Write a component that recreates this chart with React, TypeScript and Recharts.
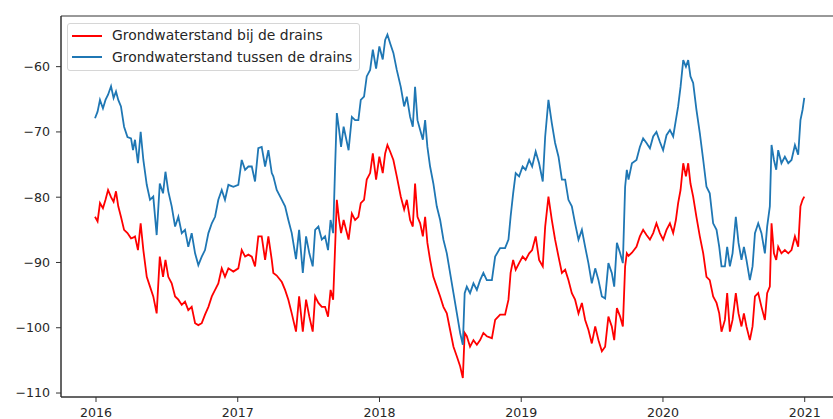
import { LineChart, Line, XAxis, YAxis, Legend, ReferenceArea } from "recharts"

// decimal years of the samples
const dates = [
  2015.993, 2016.011, 2016.028, 2016.049, 2016.067, 2016.085, 2016.106, 2016.124, 2016.141, 2016.157,
  2016.176, 2016.198, 2016.222, 2016.247, 2016.261, 2016.275, 2016.296, 2016.315, 2016.334, 2016.358,
  2016.381, 2016.404, 2016.428, 2016.45, 2016.473, 2016.49, 2016.51, 2016.534, 2016.558, 2016.581,
  2016.605, 2016.628, 2016.651, 2016.675, 2016.699, 2016.722, 2016.746, 2016.769, 2016.793, 2016.817,
  2016.84, 2016.863, 2016.887, 2016.91, 2016.934, 2016.969, 2017.004, 2017.028, 2017.052, 2017.075,
  2017.099, 2017.122, 2017.145, 2017.169, 2017.193, 2017.216, 2017.24, 2017.251, 2017.275, 2017.311,
  2017.334, 2017.357, 2017.381, 2017.411, 2017.433, 2017.459, 2017.482, 2017.505, 2017.529, 2017.546,
  2017.569, 2017.593, 2017.616, 2017.637, 2017.655, 2017.673, 2017.687, 2017.699, 2017.715, 2017.729,
  2017.747, 2017.782, 2017.805, 2017.828, 2017.851, 2017.868, 2017.891, 2017.91, 2017.934, 2017.953,
  2017.976, 2017.999, 2018.023, 2018.04, 2018.056, 2018.075, 2018.098, 2018.122, 2018.15, 2018.174,
  2018.193, 2018.216, 2018.235, 2018.251, 2018.268, 2018.287, 2018.306, 2018.322, 2018.338, 2018.357,
  2018.38, 2018.404, 2018.428, 2018.451, 2018.475, 2018.498, 2018.522, 2018.546, 2018.569, 2018.588,
  2018.601, 2018.616, 2018.639, 2018.663, 2018.687, 2018.71, 2018.733, 2018.757, 2018.793, 2018.816,
  2018.851, 2018.886, 2018.91, 2018.925, 2018.943, 2018.961, 2018.985, 2019.01, 2019.031, 2019.056,
  2019.077, 2019.102, 2019.126, 2019.152, 2019.169, 2019.192, 2019.216, 2019.239, 2019.263, 2019.287,
  2019.31, 2019.333, 2019.357, 2019.38, 2019.404, 2019.428, 2019.451, 2019.474, 2019.498, 2019.522,
  2019.545, 2019.569, 2019.592, 2019.615, 2019.639, 2019.656, 2019.675, 2019.698, 2019.717, 2019.733,
  2019.745, 2019.757, 2019.781, 2019.813, 2019.837, 2019.86, 2019.884, 2019.908, 2019.931, 2019.954,
  2019.978, 2020.001, 2020.025, 2020.049, 2020.072, 2020.091, 2020.107, 2020.124, 2020.143, 2020.162,
  2020.178, 2020.194, 2020.213, 2020.236, 2020.26, 2020.284, 2020.307, 2020.33, 2020.354, 2020.378,
  2020.397, 2020.413, 2020.437, 2020.453, 2020.472, 2020.491, 2020.514, 2020.533, 2020.554, 2020.571,
  2020.589, 2020.613, 2020.632, 2020.649, 2020.672, 2020.695, 2020.719, 2020.735, 2020.754, 2020.766,
  2020.783, 2020.799, 2020.813, 2020.836, 2020.86, 2020.884, 2020.907, 2020.931, 2020.954, 2020.97,
  2020.985, 2020.997,
]

// Grondwaterstand bij de drains (cm)
const bijDrains = [
  -83.0, -83.7, -80.9, -81.7, -80.4, -78.9, -80.0, -80.7, -79.1, -81.4,
  -83.0, -85.0, -85.5, -86.3, -86.2, -86.0, -88.1, -84.0, -88.1, -92.2,
  -93.7, -95.2, -97.8, -89.1, -92.2, -89.6, -92.2, -93.2, -95.2, -95.7,
  -96.5, -96.0, -97.3, -96.8, -99.3, -99.6, -99.3, -98.0, -96.8, -95.2,
  -94.2, -93.2, -90.9, -92.2, -90.9, -91.4, -90.9, -88.1, -89.1, -88.8,
  -89.1, -90.6, -86.0, -86.0, -89.6, -86.0, -89.6, -91.6, -92.0, -93.0,
  -94.2, -95.7, -97.8, -100.6, -95.2, -100.6, -95.7, -98.3, -100.6, -95.2,
  -96.2, -96.8, -96.8, -98.3, -94.2, -95.7, -87.6, -80.4, -83.5, -85.5,
  -83.5, -86.5, -82.5, -83.5, -83.0, -80.9, -80.4, -77.3, -76.3, -73.3,
  -77.3, -73.8, -76.3, -73.3, -72.0, -73.0, -74.3, -76.8, -79.9, -81.9,
  -80.4, -83.5, -84.5, -77.9, -83.0, -84.0, -86.0, -83.0, -87.0, -89.6,
  -92.2, -93.7, -95.2, -96.8, -97.8, -100.3, -102.9, -104.4, -105.9, -107.7,
  -100.8, -101.3, -102.9, -101.9, -102.6, -101.9, -100.8, -101.3, -101.6, -98.8,
  -98.0, -98.0, -95.7, -91.6, -89.6, -91.1, -90.1, -89.1, -89.6, -88.6,
  -88.1, -86.0, -89.6, -90.6, -84.5, -79.9, -83.5, -86.5, -89.1, -91.6,
  -91.1, -92.7, -94.7, -95.7, -97.8, -96.2, -98.8, -100.3, -102.4, -99.8,
  -101.9, -103.6, -102.9, -98.3, -99.8, -101.9, -97.0, -98.3, -99.8, -90.6,
  -88.6, -89.0, -88.5, -87.6, -86.0, -85.0, -85.8, -86.5, -85.5, -84.0,
  -85.5, -86.5, -85.0, -84.0, -85.5, -83.5, -80.9, -78.9, -74.8, -76.8,
  -74.8, -77.9, -79.9, -83.0, -86.0, -88.6, -92.2, -92.7, -95.2, -96.2,
  -97.8, -100.6, -98.8, -94.7, -100.6, -98.8, -94.7, -97.8, -99.8, -97.8,
  -99.8, -101.9, -99.8, -95.2, -94.7, -96.8, -98.8, -94.7, -93.7, -84.0,
  -88.6, -89.6, -87.6, -88.6, -88.1, -88.6, -88.1, -86.0, -87.6, -81.4,
  -80.4, -79.9,
]

// Grondwaterstand tussen de drains (cm)
const tussenDrains = [
  -67.9, -66.9, -65.1, -66.4, -65.1, -64.3, -63.0, -64.8, -63.8, -65.1,
  -66.1, -69.2, -70.8, -71.0, -72.8, -71.2, -74.8, -70.0, -74.3, -78.1,
  -80.4, -79.9, -85.8, -77.9, -79.4, -76.1, -79.1, -81.4, -84.5, -83.0,
  -85.5, -85.0, -87.6, -85.5, -88.6, -90.4, -89.1, -88.1, -85.5, -84.0,
  -83.0, -80.4, -78.9, -80.4, -78.1, -78.4, -78.1, -74.3, -75.8, -75.3,
  -75.3, -77.6, -72.5, -72.3, -75.3, -72.8, -76.3, -76.8, -78.9, -80.4,
  -81.4, -83.5, -85.5, -89.5, -85.0, -91.6, -86.0, -88.6, -90.6, -85.0,
  -84.5, -86.5, -86.0, -88.1, -83.5, -85.5, -75.3, -67.1, -69.7, -72.3,
  -69.2, -72.8, -67.7, -68.2, -68.2, -65.1, -64.6, -61.5, -60.5, -57.4,
  -60.3, -56.9, -58.9, -55.9, -55.1, -56.4, -57.9, -60.5, -63.1, -66.1,
  -64.6, -67.7, -69.2, -63.1, -68.2, -69.7, -71.2, -68.2, -72.3, -75.3,
  -77.9, -81.4, -83.5, -86.5, -88.6, -91.6, -94.7, -97.8, -100.8, -102.6,
  -94.7, -93.7, -94.7, -93.2, -94.2, -92.7, -91.6, -92.7, -92.7, -89.1,
  -87.8, -87.8, -86.5, -83.0, -79.4, -76.3, -76.8, -75.3, -75.8, -74.3,
  -75.3, -73.0, -74.8, -77.6, -70.7, -65.1, -68.7, -71.7, -73.8, -77.3,
  -77.3, -80.4, -81.4, -84.0, -86.5, -85.0, -87.6, -90.1, -93.2, -90.9,
  -92.7, -95.2, -95.5, -90.1, -91.6, -93.7, -87.0, -88.6, -90.1, -78.4,
  -75.8, -77.3, -74.8, -74.3, -72.3, -71.0, -71.7, -72.5, -70.7, -70.0,
  -71.5, -72.8, -70.5, -69.7, -70.7, -68.2, -66.1, -63.1, -59.0, -60.0,
  -59.0, -61.5, -62.5, -66.6, -70.2, -74.3, -78.4, -79.4, -84.0, -85.0,
  -87.6, -90.6, -90.6, -87.6, -90.6, -88.6, -83.0, -87.0, -89.6, -87.6,
  -89.6, -92.7, -90.6, -85.5, -84.0, -85.5, -88.6, -84.5, -81.4, -72.0,
  -74.3, -75.8, -72.8, -74.8, -73.8, -74.8, -74.3, -72.0, -73.5, -68.2,
  -66.6, -64.8,
]

const yearTicks = [2016, 2017, 2018, 2019, 2020, 2021]
const levelTicks = [-110, -100, -90, -80, -70, -60]

const data = dates.map((t, i) => ({ t, bij: bijDrains[i], tussen: tussenDrains[i] }))

const X_DOMAIN: [number, number] = [2015.753, 2021.249]
const Y_DOMAIN: [number, number] = [-110.61, -52.24]

const FONT = "'DejaVu Sans', sans-serif"

const minus = (v: number) => (v < 0 ? "\u2212" + Math.abs(v) : String(v))

function renderLegend(props: any) {
  const items = props.payload || []
  return (
    <div
      style={{
        border: "1px solid #d6d6d6",
        borderRadius: 3,
        background: "rgba(255,255,255,0.8)",
        padding: "1px 7px 2px 4px",
        fontFamily: FONT,
        fontSize: 13.9,
        color: "#262626",
        lineHeight: "21.5px",
      }}
    >
      {items.map((it: any) => (
        <div key={it.value} style={{ display: "flex", alignItems: "center", whiteSpace: "nowrap" }}>
          <span style={{ display: "inline-block", width: 30, height: 2, background: it.color, marginRight: 10 }} />
          <span>{it.value}</span>
        </div>
      ))}
    </div>
  )
}

export default function App() {
  return (
    <div style={{ position: "absolute", left: 0, top: 0, width: 833, height: 419, overflow: "hidden", background: "#fff" }}>
      <LineChart width={860} height={419} data={data} margin={{ top: 16, right: 20, bottom: 0, left: 0 }}>
        <XAxis
          dataKey="t"
          type="number"
          domain={X_DOMAIN}
          ticks={yearTicks}
          allowDataOverflow
          height={22}
          tickSize={5}
          tickMargin={6}
          stroke="#333"
          tick={{ fill: "#262626", fontSize: 12.6, fontFamily: FONT }}
          tickFormatter={(v: number) => String(v)}
        />
        <YAxis
          type="number"
          domain={Y_DOMAIN}
          ticks={levelTicks}
          allowDataOverflow
          width={61}
          tickSize={5}
          tickMargin={6}
          stroke="#333"
          tick={{ fill: "#262626", fontSize: 12.6, fontFamily: FONT }}
          tickFormatter={minus}
        />
        <ReferenceArea
          x1={X_DOMAIN[0]}
          x2={X_DOMAIN[1]}
          y1={Y_DOMAIN[0]}
          y2={Y_DOMAIN[1]}
          fill="none"
          stroke="#333"
          strokeWidth={1}
        />
        <Legend
          layout="vertical"
          align="center"
          verticalAlign="middle"
          content={renderLegend}
          wrapperStyle={{ left: 67, top: 23, width: "auto" }}
        />
        <Line
          name="Grondwaterstand bij de drains"
          dataKey="bij"
          type="linear"
          stroke="#ff0000"
          strokeWidth={1.8}
          dot={false}
          isAnimationActive={false}
        />
        <Line
          name="Grondwaterstand tussen de drains"
          dataKey="tussen"
          type="linear"
          stroke="#1f77b4"
          strokeWidth={1.8}
          dot={false}
          isAnimationActive={false}
        />
      </LineChart>
    </div>
  )
}
